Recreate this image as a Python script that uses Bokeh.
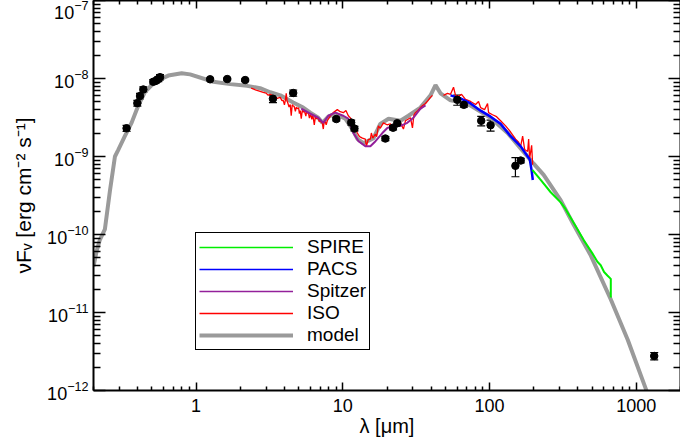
from bokeh.plotting import figure
from bokeh.models import (LogAxis, FixedTicker, PrintfTickFormatter, Whisker, TeeHead,
                          ColumnDataSource, Legend, LegendItem, Range1d, CustomJSTickFormatter)
from bokeh.embed import file_html
from bokeh.resources import INLINE

# ---------------- data (wavelength in micron, nuF_nu in erg cm^-2 s^-1) ----------------
model_wl = [0.2, 0.21, 0.221, 0.239, 0.259, 0.280, 0.295, 0.327, 0.364, 0.404, 0.449, 0.525,
            0.647, 0.798, 0.91, 1.31, 1.71, 2.23, 2.73, 3.2, 3.75, 4.59, 5.37, 6.0, 6.8, 7.25,
            7.96, 8.89, 10.4, 11.6, 12.6, 13.8, 16.2, 18.0, 20.5, 24.7, 28.0, 33.8, 39.6, 42.8,
            46.3, 54.2, 60.5, 74.2, 101.6, 132.7, 162.8, 199.7, 233.6, 305.5, 374.4, 489.0,
            669.0, 875.0, 1161.0, 2000.0]
model_f = [3.9e-11, 6.1e-11, 8.55e-11, 1.16e-10, 3.67e-10, 1.0e-9, 1.22e-9, 1.82e-9, 2.72e-9,
           4.51e-9, 6.73e-9, 9.08e-9, 1.09e-8, 1.17e-8, 1.13e-8, 9.08e-9, 8.47e-9, 8.05e-9,
           7.51e-9, 6.66e-9, 6.08e-9, 4.93e-9, 4.24e-9, 3.65e-9, 3.14e-9, 2.70e-9, 3.24e-9,
           3.54e-9, 3.05e-9, 2.25e-9, 1.67e-9, 1.48e-9, 1.72e-9, 2.62e-9, 3.05e-9, 2.87e-9,
           3.33e-9, 4.24e-9, 6.08e-9, 8.22e-9, 6.46e-9, 5.24e-9, 5.08e-9, 4.51e-9, 3.14e-9,
           2.00e-9, 1.27e-9, 8.09e-10, 5.82e-10, 2.74e-10, 1.33e-10, 5.40e-11, 1.48e-11,
           4.44e-12, 1.05e-12, 6.6e-14]

iso_sws_wl = [2.374, 2.47, 2.568, 2.70, 2.867, 3.00, 3.10, 3.20, 3.40, 3.572, 3.745, 3.85, 3.926,
              4.00, 4.06, 4.115, 4.17, 4.20, 4.30, 4.381, 4.451, 4.52, 4.60, 4.666, 4.75, 4.82,
              4.891, 5.00, 5.06, 5.128, 5.209, 5.30, 5.38, 5.461, 5.60, 5.66, 5.724, 5.85, 5.92,
              6.00, 6.08, 6.15, 6.22, 6.29, 6.39, 6.50, 6.65, 6.805, 6.90, 7.00, 7.12, 7.245,
              7.361, 7.45, 7.596, 7.70, 7.839, 8.20, 8.614, 9.174, 9.60, 10.08, 10.50, 10.90,
              11.30, 11.80, 12.20, 12.56, 13.00, 13.59, 14.24, 14.47, 14.90, 15.41, 15.65, 16.00,
              16.67, 17.00, 17.47, 18.00, 18.90, 20.00, 21.10, 22.00, 22.82, 23.80, 24.69, 25.88,
              26.71, 27.80, 28.89, 29.82, 30.50, 31.26, 32.50, 33.81, 35.00, 36.57, 38.00, 39.56,
              40.82]
iso_sws_f = [7.51e-9, 7.30e-9, 7.07e-9, 6.90e-9, 6.66e-9, 6.50e-9, 6.10e-9, 6.27e-9, 5.90e-9,
             5.56e-9, 5.73e-9, 5.20e-9, 5.24e-9,
             4.60e-9, 5.30e-9, 6.46e-9, 5.10e-9, 5.00e-9, 4.30e-9, 4.64e-9, 3.33e-9, 4.60e-9,
             4.45e-9, 4.37e-9, 3.80e-9, 4.30e-9, 4.11e-9, 4.20e-9, 3.55e-9, 3.87e-9, 3.05e-9,
             3.95e-9, 3.70e-9, 3.87e-9, 3.30e-9, 3.75e-9, 3.65e-9, 3.50e-9, 3.10e-9, 3.43e-9,
             3.30e-9, 3.00e-9, 3.35e-9, 3.14e-9, 2.54e-9, 3.20e-9, 3.05e-9, 3.14e-9, 2.80e-9,
             2.95e-9, 2.75e-9, 2.70e-9, 2.25e-9, 2.75e-9, 2.78e-9, 2.55e-9, 2.87e-9,
             3.30e-9, 3.65e-9, 3.99e-9, 3.75e-9, 3.65e-9, 3.90e-9, 3.33e-9, 3.10e-9, 2.62e-9,
             2.30e-9, 2.00e-9, 1.80e-9, 1.72e-9, 1.67e-9, 1.35e-9, 1.65e-9, 1.67e-9, 2.00e-9,
             1.72e-9, 1.94e-9, 1.80e-9, 2.47e-9, 2.30e-9, 2.70e-9, 2.55e-9, 2.62e-9, 2.40e-9,
             2.70e-9, 2.60e-9, 2.70e-9, 2.25e-9, 2.87e-9, 3.00e-9, 3.14e-9, 2.32e-9, 3.40e-9,
             3.65e-9, 3.90e-9, 4.24e-9, 4.50e-9, 4.78e-9, 5.20e-9, 5.73e-9, 6.08e-9]

iso_lws_wl = [48.53, 51.68, 54.18, 56.80, 58.61, 61.44, 64.41, 68.58, 74.19, 80.25, 84.13, 86.81,
              92.44, 96.90, 98.44, 104.8, 111.6, 118.9, 128.6, 139.1, 150.5, 157.8, 162.8, 168.0,
              173.4, 181.7, 184.6, 187.5, 193.5, 196.6]
iso_lws_f = [6.08e-9, 6.46e-9, 6.27e-9, 7.74e-9, 6.08e-9, 5.90e-9, 6.27e-9, 5.40e-9, 5.08e-9,
             4.64e-9, 5.08e-9, 4.24e-9, 3.99e-9, 4.78e-9, 3.65e-9, 3.43e-9, 3.24e-9, 2.87e-9,
             2.47e-9, 2.06e-9, 1.67e-9, 1.52e-9, 1.35e-9, 1.83e-9, 1.23e-9, 1.16e-9, 1.67e-9,
             9.42e-10, 1.39e-9, 7.86e-10]

spitzer_wl = [5.21, 6.00, 6.80, 7.36, 7.96, 8.89, 10.07, 10.9, 11.8, 12.8, 14.3, 15.4, 16.7,
              18.6, 20.1, 22.1, 24.7, 27.5, 30.3, 33.8, 36.6]
spitzer_f = [4.11e-9, 3.54e-9, 3.14e-9, 2.70e-9, 3.33e-9, 3.65e-9, 3.33e-9, 3.05e-9, 2.00e-9,
             1.57e-9, 1.35e-9, 1.35e-9, 1.57e-9, 2.00e-9, 2.32e-9, 2.47e-9, 2.47e-9, 2.70e-9,
             3.14e-9, 4.11e-9, 4.51e-9]

pacs_wl = [54.2, 63.4, 74.2, 86.8, 101.6, 119.0, 139.0, 163.0, 176.0, 188.0, 194.0, 197.0]
pacs_f = [6.08e-9, 5.56e-9, 4.79e-9, 3.87e-9, 3.24e-9, 2.62e-9, 1.82e-9, 1.35e-9, 1.09e-9,
          9.14e-10, 6.37e-10, 5.00e-10]

spire_wl = [195.6, 223.0, 261.0, 305.0, 330.0, 374.0, 438.0, 502.0, 543.0, 572.0, 603.0,
            635.0, 670.0, 670.0]
spire_f = [6.76e-10, 5.00e-10, 3.48e-10, 2.58e-10, 2.11e-10, 1.41e-10, 8.48e-11, 5.73e-11,
           4.47e-11, 4.03e-11, 3.30e-11, 2.98e-11, 2.70e-11, 1.56e-11]

phot_wl = [0.336, 0.398, 0.415, 0.437, 0.511, 0.533, 0.553, 0.568, 1.246, 1.63, 2.16, 3.34,
           4.59, 9.03, 11.4, 12.0, 19.5, 22.0, 23.5, 60.2, 66.8, 87.7, 101.6, 150.0, 163.0,
           1324.0]
phot_f = [2.30e-9, 4.83e-9, 5.96e-9, 7.23e-9, 9.08e-9, 9.36e-9, 9.84e-9, 1.04e-8, 9.77e-9,
          9.84e-9, 9.55e-9, 5.51e-9, 6.52e-9, 3.02e-9, 2.72e-9, 2.28e-9, 1.70e-9, 2.34e-9,
          2.67e-9, 5.34e-9, 4.60e-9, 2.87e-9, 2.52e-9, 7.6e-10, 8.87e-10, 2.77e-12]
phot_err = [0.2e-9, 0.4e-9, 0.5e-9, 0.6e-9, 0.6e-9, 0.6e-9, 0.7e-9, 0.8e-9, 0.3e-9, 0.3e-9,
            0.3e-9, 0.6e-9, 0.6e-9, 0.15e-9, 0.2e-9, 0.15e-9, 0.1e-9, 0.15e-9, 0.2e-9, 0.8e-9,
            0.3e-9, 0.4e-9, 0.4e-9, 2.1e-10, 0.6e-10, 0.3e-12]

x_major = [1, 10, 100, 1000]
y_major = [1e-12, 1e-11, 1e-10, 1e-9, 1e-8, 1e-7]

FONT = "Liberation Sans"

# ---------------- figure ----------------
p = figure(width=680, height=447, x_axis_type="log", y_axis_type="log",
           x_range=Range1d(0.2, 2000), y_range=Range1d(1e-12, 1e-7),
           output_backend="svg", toolbar_location=None,
           min_border_left=93, min_border_right=0, min_border_top=0, min_border_bottom=57)
p.outline_line_color = None
p.background_fill_color = "white"
p.border_fill_color = "white"
p.grid.visible = False

x_minor = [m * 10.0 ** e for e in range(-1, 4) for m in range(2, 10)]
y_minor = [m * 10.0 ** e for e in range(-12, -7) for m in range(2, 10)]
xt = FixedTicker(ticks=x_major, minor_ticks=x_minor)
yt = FixedTicker(ticks=y_major, minor_ticks=y_minor)


def style_axis(ax, major_in, minor_in):
    ax.axis_line_width = 2
    ax.axis_line_color = "black"
    ax.major_tick_in = major_in
    ax.major_tick_out = 0
    ax.minor_tick_in = minor_in
    ax.minor_tick_out = 0
    ax.major_tick_line_width = 1.5
    ax.minor_tick_line_width = 1.5
    ax.major_tick_line_color = "black"
    ax.minor_tick_line_color = "black"
    ax.major_label_text_font = FONT
    ax.major_label_text_font_size = "18px"
    ax.major_label_text_color = "black"
    ax.axis_label_text_font = FONT
    ax.axis_label_text_font_size = "20px"
    ax.axis_label_text_font_style = "normal"
    ax.axis_label_text_color = "black"


xa = p.xaxis[0]
xa.ticker = xt
xa.formatter = PrintfTickFormatter(format="%d")
style_axis(xa, 8, 4)
xa.axis_label = "λ [μm]"
xa.major_label_standoff = 8
xa.axis_label_standoff = 0

ya = p.yaxis[0]
ya.ticker = yt
style_axis(ya, 12, 7)
ya.axis_label = "νFᵥ [erg cm⁻² s⁻¹]"
ya.axis_label_text_font_size = "21px"
ya.major_label_standoff = 5
ya.axis_label_standoff = 9

top = LogAxis(ticker=xt, formatter=CustomJSTickFormatter(code="return ''"))
style_axis(top, 8, 4)
top.major_label_text_font_size = "0px"
top.major_label_standoff = 0
p.add_layout(top, "above")

right = LogAxis(ticker=yt, formatter=CustomJSTickFormatter(code="return ''"))
style_axis(right, 12, 7)
right.major_label_text_font_size = "0px"
right.major_label_standoff = 0
p.add_layout(right, "right")

GRAY = "#9a9a9a"
RED = "#ff0000"
PURPLE = "#93209a"
BLUE = "#0000ff"
GREEN = "#00ee00"

p.line(model_wl, model_f, line_color=GRAY, line_width=4)
p.line(iso_sws_wl, iso_sws_f, line_color=RED, line_width=1.3)
p.line(iso_lws_wl, iso_lws_f, line_color=RED, line_width=1.3)
p.line(spitzer_wl, spitzer_f, line_color=PURPLE, line_width=2)
p.line(pacs_wl, pacs_f, line_color=BLUE, line_width=2.5)
p.line(spire_wl, spire_f, line_color=GREEN, line_width=2)

lo = [f - e for f, e in zip(phot_f, phot_err)]
hi = [f + e for f, e in zip(phot_f, phot_err)]
src = ColumnDataSource(dict(x=phot_wl, y=phot_f, lo=lo, hi=hi))
p.add_layout(Whisker(source=src, base="x", lower="lo", upper="hi", dimension="height",
                     line_color="black", line_width=1.2,
                     upper_head=TeeHead(size=8, line_color="black", line_width=1.2),
                     lower_head=TeeHead(size=8, line_color="black", line_width=1.2)))
p.scatter("x", "y", source=src, size=7.5, color="black")

# legend key glyphs (thin lines, as in the reference key; no visible data)
NAN = [float("nan")]
lg_spire = p.line(NAN, NAN, line_color=GREEN, line_width=1.6)
lg_pacs = p.line(NAN, NAN, line_color=BLUE, line_width=1.6)
lg_spitzer = p.line(NAN, NAN, line_color=PURPLE, line_width=1.6)
lg_iso = p.line(NAN, NAN, line_color=RED, line_width=1.6)
lg_model = p.line(NAN, NAN, line_color=GRAY, line_width=4)

legend = Legend(items=[LegendItem(label="SPIRE", renderers=[lg_spire]),
                       LegendItem(label="PACS", renderers=[lg_pacs]),
                       LegendItem(label="Spitzer", renderers=[lg_spitzer]),
                       LegendItem(label="ISO", renderers=[lg_iso]),
                       LegendItem(label="model", renderers=[lg_model])],
                location=(102, 40), margin=0, padding=3, spacing=0,
                glyph_width=94, glyph_height=18, label_height=18, label_standoff=14,
                label_text_font=FONT, label_text_font_size="19px", label_text_color="black",
                label_text_line_height=1.0,
                border_line_color="black", border_line_width=1.5, border_line_alpha=1,
                background_fill_color="white", background_fill_alpha=1)
p.add_layout(legend)

open("out.html", "w").write(file_html(p, INLINE))
